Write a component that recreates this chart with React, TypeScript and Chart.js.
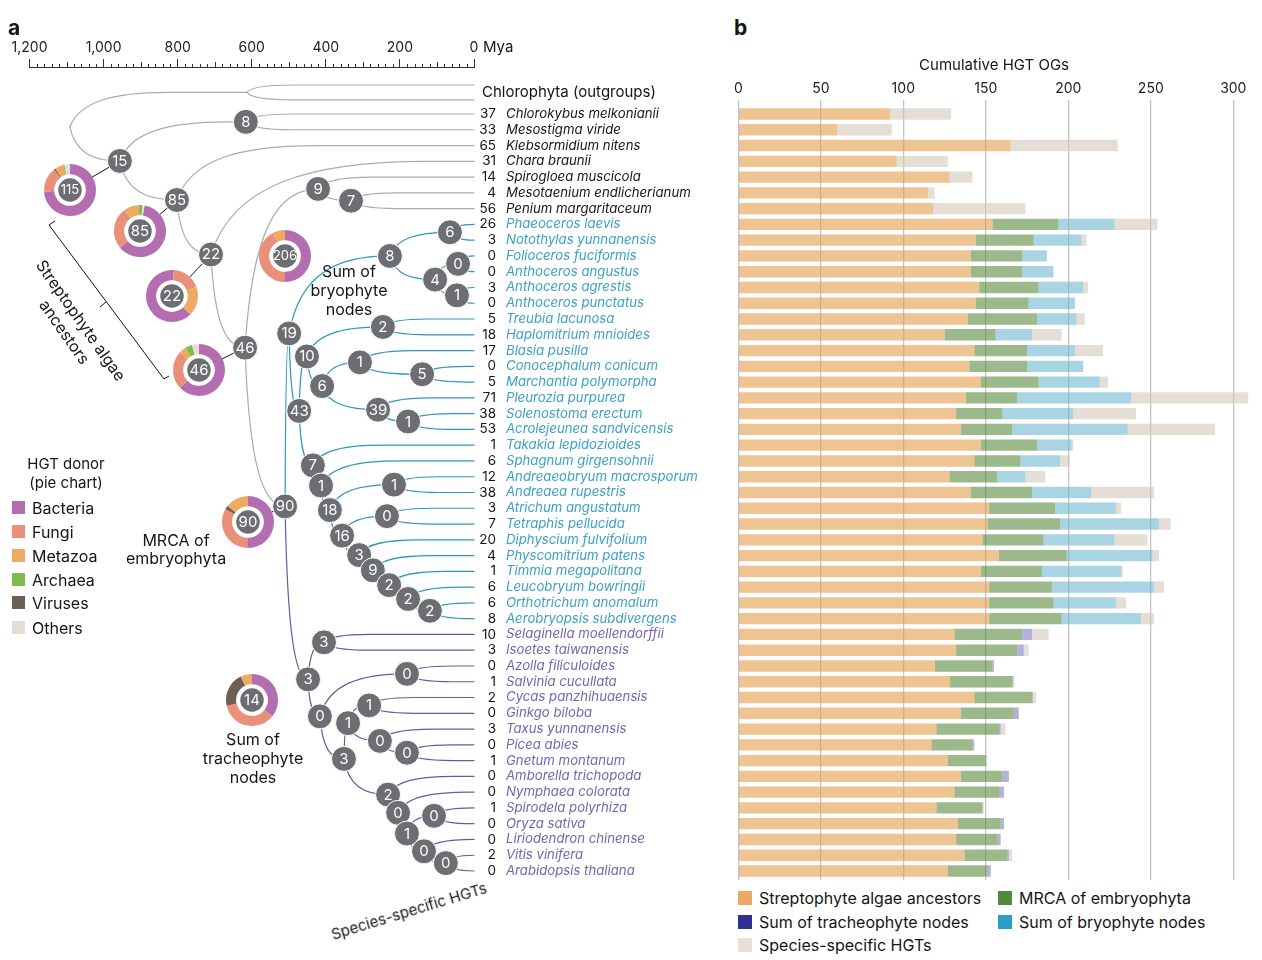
import React, { useEffect, useRef } from 'react';
import { Chart, registerables } from 'chart.js';

Chart.register(...registerables);

const FONT = 'Inter, Roboto, "Noto Sans", sans-serif';

// ---------------- species rows (top to bottom) ----------------
const SPECIES = [
  'Chlorokybus melkonianii', 'Mesostigma viride', 'Klebsormidium nitens', 'Chara braunii',
  'Spirogloea muscicola', 'Mesotaenium endlicherianum', 'Penium margaritaceum',
  'Phaeoceros laevis', 'Notothylas yunnanensis', 'Folioceros fuciformis', 'Anthoceros angustus',
  'Anthoceros agrestis', 'Anthoceros punctatus',
  'Treubia lacunosa', 'Haplomitrium mnioides', 'Blasia pusilla', 'Conocephalum conicum',
  'Marchantia polymorpha', 'Pleurozia purpurea', 'Solenostoma erectum', 'Acrolejeunea sandvicensis',
  'Takakia lepidozioides', 'Sphagnum girgensohnii', 'Andreaeobryum macrosporum', 'Andreaea rupestris',
  'Atrichum angustatum', 'Tetraphis pellucida', 'Diphyscium fulvifolium', 'Physcomitrium patens',
  'Timmia megapolitana', 'Leucobryum bowringii', 'Orthotrichum anomalum', 'Aerobryopsis subdivergens',
  'Selaginella moellendorffii', 'Isoetes taiwanensis', 'Azolla filiculoides', 'Salvinia cucullata',
  'Cycas panzhihuaensis', 'Ginkgo biloba', 'Taxus yunnanensis', 'Picea abies', 'Gnetum montanum',
  'Amborella trichopoda', 'Nymphaea colorata', 'Spirodela polyrhiza', 'Oryza sativa',
  'Liriodendron chinense', 'Vitis vinifera', 'Arabidopsis thaliana',
];

type Group = 'algae' | 'bryo' | 'trach';
const SPECIES_GROUP: Group[] = [
  'algae', 'algae', 'algae', 'algae', 'algae', 'algae', 'algae',
  'bryo', 'bryo', 'bryo', 'bryo', 'bryo', 'bryo',
  'bryo', 'bryo', 'bryo', 'bryo', 'bryo', 'bryo', 'bryo', 'bryo',
  'bryo', 'bryo', 'bryo', 'bryo', 'bryo', 'bryo', 'bryo', 'bryo', 'bryo', 'bryo', 'bryo', 'bryo',
  'trach', 'trach', 'trach', 'trach', 'trach', 'trach', 'trach', 'trach',
  'trach', 'trach', 'trach', 'trach', 'trach', 'trach', 'trach', 'trach',
];

// species-specific HGTs (number next to each name, grey bar segment)
const SPECIES_SPECIFIC = [
  37, 33, 65, 31, 14, 4, 56,
  26, 3, 0, 0, 3, 0,
  5, 18, 17, 0, 5, 71, 38, 53,
  1, 6, 12, 38, 3, 7, 20, 4, 1, 6, 6, 8,
  10, 3, 0, 1, 2, 0, 3, 0, 1, 0, 0, 1, 0, 0, 2, 0,
];

// cumulative HGT OGs by origin (panel b)
const ALGAE_ANCESTORS = [
  92, 60, 165, 96, 128, 115, 118,
  154, 144, 141, 141, 146, 144,
  139, 125, 143, 140, 147, 138, 132, 135,
  147, 143, 128, 141, 152, 151, 148, 158, 147, 152, 152, 152,
  131, 132, 119, 128, 143, 135, 120, 117, 127, 135, 131, 120, 133, 132, 137, 127,
];
const MRCA_EMBRYOPHYTA = [
  0, 0, 0, 0, 0, 0, 0,
  40, 35, 31, 31, 36, 32,
  42, 31, 32, 35, 35, 31, 28, 31,
  34, 28, 29, 37, 40, 44, 37, 41, 37, 38, 39, 44,
  41, 37, 35, 38, 35, 32, 38, 25, 23, 25, 27, 28, 26, 25, 26, 24,
];
const TRACHEOPHYTE_NODES = [
  0, 0, 0, 0, 0, 0, 0,
  0, 0, 0, 0, 0, 0,
  0, 0, 0, 0, 0, 0, 0, 0,
  0, 0, 0, 0, 0, 0, 0, 0, 0, 0, 0, 0,
  6, 4, 1, 0.5, 0.5, 3, 1, 1, 0, 4, 3, 0, 2, 2, 1, 2,
];
const BRYOPHYTE_NODES = [
  0, 0, 0, 0, 0, 0, 0,
  34, 29, 15, 19, 27, 28,
  24, 22, 29, 34, 37, 69, 43, 70,
  21, 24, 17, 36, 37, 60, 43, 52, 48, 62, 38, 48,
  0, 0, 0, 0, 0, 0, 0, 0, 0, 0, 0, 0, 0, 0, 0, 0,
];

const VALUE_TICKS = [0, 50, 100, 150, 200, 250, 300];
const TIME_TICKS = [1200, 1000, 800, 600, 400, 200, 0];

// ---------------- tree (panel a) ----------------
// [id, parent, age (Mya), HGT gains at node, lineage]
const TREE_NODES: [string, string | null, number, number | null, Group][] = [
  ['root', null, 1091, null, 'algae'],
  ['og', 'root', 613, null, 'algae'],
  ['n15', 'root', 956, 15, 'algae'],
  ['n8a', 'n15', 616, 8, 'algae'],
  ['n85', 'n15', 802, 85, 'algae'],
  ['n22', 'n85', 710, 22, 'algae'],
  ['n46', 'n22', 618, 46, 'algae'],
  ['n9', 'n46', 421, 9, 'algae'],
  ['n7z', 'n9', 332, 7, 'algae'],
  ['n90', 'n46', 510, 90, 'algae'],
  ['n19', 'n90', 499, 19, 'bryo'],
  ['h8', 'n19', 227, 8, 'bryo'],
  ['h6', 'h8', 65, 6, 'bryo'],
  ['h4', 'h8', 105, 4, 'bryo'],
  ['h0', 'h4', 43, 0, 'bryo'],
  ['h1', 'h4', 46, 1, 'bryo'],
  ['n43', 'n19', 472, 43, 'bryo'],
  ['l10', 'n43', 451, 10, 'bryo'],
  ['l2', 'l10', 246, 2, 'bryo'],
  ['l6', 'l10', 410, 6, 'bryo'],
  ['l1', 'l6', 308, 1, 'bryo'],
  ['l5', 'l1', 140, 5, 'bryo'],
  ['l39', 'l6', 259, 39, 'bryo'],
  ['l1b', 'l39', 178, 1, 'bryo'],
  ['m7', 'n43', 435, 7, 'bryo'],
  ['m1', 'm7', 413, 1, 'bryo'],
  ['m18', 'm1', 389, 18, 'bryo'],
  ['m1b', 'm18', 216, 1, 'bryo'],
  ['m16', 'm18', 356, 16, 'bryo'],
  ['m0', 'm16', 235, 0, 'bryo'],
  ['m3', 'm16', 310, 3, 'bryo'],
  ['m9', 'm3', 273, 9, 'bryo'],
  ['m2a', 'm9', 229, 2, 'bryo'],
  ['m2b', 'm2a', 178, 2, 'bryo'],
  ['m2c', 'm2b', 119, 2, 'bryo'],
  ['t3', 'n90', 448, 3, 'trach'],
  ['tLyc', 't3', 405, 3, 'trach'],
  ['tEu', 't3', 416, 0, 'trach'],
  ['tFern', 'tEu', 181, 0, 'trach'],
  ['tSeed', 'tEu', 351, 3, 'trach'],
  ['tGym', 'tSeed', 340, 1, 'trach'],
  ['tCG', 'tGym', 283, 1, 'trach'],
  ['tCon', 'tGym', 254, 0, 'trach'],
  ['tPG', 'tCon', 181, 0, 'trach'],
  ['tAng', 'tSeed', 232, 2, 'trach'],
  ['tN', 'tAng', 205, 0, 'trach'],
  ['tMes', 'tN', 181, 1, 'trach'],
  ['tMono', 'tMes', 108, 0, 'trach'],
  ['tLE', 'tMes', 135, 0, 'trach'],
  ['tEud', 'tLE', 76, 0, 'trach'],
];

const LEAF_PARENT = [
  'n8a', 'n8a', 'n85', 'n22', 'n9', 'n7z', 'n7z',
  'h6', 'h6', 'h0', 'h0', 'h1', 'h1',
  'l2', 'l2', 'l1', 'l5', 'l5', 'l39', 'l1b', 'l1b',
  'm7', 'm1', 'm1b', 'm1b', 'm0', 'm0', 'm3', 'm9', 'm2a', 'm2b', 'm2c', 'm2c',
  'tLyc', 'tLyc', 'tFern', 'tFern', 'tCG', 'tCG', 'tCon', 'tPG', 'tPG',
  'tAng', 'tN', 'tMono', 'tMono', 'tLE', 'tEud', 'tEud',
];

const OUTGROUP_LABEL = 'Chlorophyta (outgroups)';
const OUTGROUP_ROW = -0.46;
const OUTGROUP_TIPS = [-0.84, 0.11];

// ---------------- pies: HGT donors ----------------
const PIE_NODE = ['n15', 'n85', 'n22', 'n46', 'n19', 'n90', 't3'];
const PIE_TOTAL = [115, 85, 22, 46, 206, 90, 14];
const DONORS = ['Bacteria', 'Fungi', 'Viruses', 'Metazoa', 'Archaea', 'Others'];
const PIE_BACTERIA = [85, 52, 14, 29, 103, 45, 5];
const PIE_FUNGI = [18, 22, 4, 11, 87, 30, 5];
const PIE_VIRUSES = [1, 0, 0, 0, 0, 2, 3];
const PIE_METAZOA = [6, 8, 4, 2, 16, 13, 1];
const PIE_ARCHAEA = [1, 2, 0, 2, 0, 0, 0];
const PIE_OTHERS = [4, 1, 0, 2, 0, 0, 0];
const DONOR_COLORS = ['#b46db0', '#e98f7a', '#6c5f53', '#eeaa60', '#7dbd4e', '#e4ddd5'];

// ---------------- layout (pixels) ----------------
const ROW_FIRST_PX = 114;
const ROW_LAST_PX = 871;
const ROW_PX = (ROW_LAST_PX - ROW_FIRST_PX) / 48;
const PLOT_BOTTOM = 880;
const TREE_TOP = 67;
const BAR_CANVAS_TOP = 40;
const BAR_TOP = 100;
const rowRange = (top: number) => ({
  min: 1 - (ROW_FIRST_PX - top) / ROW_PX,
  max: 1 + (PLOT_BOTTOM - ROW_FIRST_PX) / ROW_PX,
});
const PIE_CENTERS: [number, number][] = [
  [70, 190], [140, 231], [172, 296], [199, 370], [285, 256], [248, 522], [252, 700],
];
const PIE_ROTATION = [0, 10, 135, 0, 0, 0, 0];
const PIE_CONNECT = [true, true, true, true, false, true, false];
const PIE_SIZE = 56;

const LINE_COLOR: Record<Group, string> = { algae: '#ababab', bryo: '#2e97ba', trach: '#6759a9' };
const TEXT_COLOR: Record<Group, string> = { algae: '#151515', bryo: '#3aa0c8', trach: '#7464b2' };
const NODE_FILL = '#6d6e71';

function computeNodeRows(): Record<string, number> {
  const rows: Record<string, number> = {};
  const calc = (id: string): number => {
    if (rows[id] !== undefined) return rows[id];
    const ys: number[] = [];
    TREE_NODES.forEach((n) => { if (n[1] === id) ys.push(calc(n[0])); });
    LEAF_PARENT.forEach((p, i) => { if (p === id) ys.push(i + 1); });
    if (id === 'og') OUTGROUP_TIPS.forEach((t) => ys.push(t));
    rows[id] = ys.reduce((a, b) => a + b, 0) / ys.length;
    return rows[id];
  };
  TREE_NODES.forEach((n) => calc(n[0]));
  return rows;
}

function drawBranch(ctx: CanvasRenderingContext2D, xp: number, yp: number, xc: number, yc: number) {
  const dx = xc - xp;
  const dy = yc - yp;
  const w = Math.max(0, Math.min(dx, 2 * Math.abs(dy) + 30));
  ctx.beginPath();
  ctx.moveTo(xp, yp);
  ctx.bezierCurveTo(xp + 0.1 * w, yp + 0.75 * dy, xp + 0.45 * w, yc, xp + w, yc);
  if (xc > xp + w) ctx.lineTo(xc, yc);
  ctx.stroke();
}

function Txt(props: { x: number; y: number; size?: number; align?: 'left' | 'center'; bold?: boolean; lh?: number; children: React.ReactNode; style?: React.CSSProperties }) {
  const { x, y, size = 16, align = 'left', bold = false, lh, children, style } = props;
  return (
    <div
      style={{
        position: 'absolute', left: x, top: y, fontSize: size, fontWeight: bold ? 700 : 400,
        lineHeight: lh ? `${lh}px` : 'normal', whiteSpace: 'nowrap', textAlign: align,
        transform: align === 'center' ? 'translate(-50%, -50%)' : 'translateY(-50%)', ...style,
      }}
    >
      {children}
    </div>
  );
}

export default function App() {
  const treeRef = useRef<HTMLCanvasElement>(null);
  const barRef = useRef<HTMLCanvasElement>(null);
  const pieRefs = useRef<(HTMLCanvasElement | null)[]>([]);

  useEffect(() => {
    const charts: Chart[] = [];
    const nodeRows = computeNodeRows();
    const treeRange = rowRange(TREE_TOP);
    const barRange = rowRange(BAR_TOP);

    const nodePoints = TREE_NODES.filter((n) => n[3] !== null).map((n) => ({ x: n[2], y: nodeRows[n[0]] }));

    const treePlugin = {
      id: 'tree',
      beforeDatasetsDraw(chart: any) {
        const { ctx } = chart;
        const x = chart.scales.x;
        const y = chart.scales.y;
        const px = (age: number) => x.getPixelForValue(age);
        const py = (row: number) => y.getPixelForValue(row);
        const nodeById: Record<string, [string, string | null, number, number | null, Group]> = {};
        TREE_NODES.forEach((n) => { nodeById[n[0]] = n; });
        ctx.save();
        ctx.lineWidth = 1.2;
        ctx.lineCap = 'round';
        TREE_NODES.forEach((n) => {
          if (!n[1]) return;
          const p = nodeById[n[1]];
          ctx.strokeStyle = LINE_COLOR[n[4]];
          drawBranch(ctx, px(p[2]), py(nodeRows[p[0]]), px(n[2]), py(nodeRows[n[0]]));
        });
        LEAF_PARENT.forEach((pid, i) => {
          const p = nodeById[pid];
          ctx.strokeStyle = LINE_COLOR[SPECIES_GROUP[i]];
          drawBranch(ctx, px(p[2]), py(nodeRows[pid]), px(0), py(i + 1));
        });
        const og = nodeById.og;
        ctx.strokeStyle = LINE_COLOR.algae;
        OUTGROUP_TIPS.forEach((t) => drawBranch(ctx, px(og[2]), py(nodeRows.og), px(0), py(t)));
        ctx.strokeStyle = '#111';
        ctx.lineWidth = 1;
        PIE_NODE.forEach((id, i) => {
          if (!PIE_CONNECT[i]) return;
          const n = nodeById[id];
          const nx = px(n[2]);
          const ny = py(nodeRows[id]);
          const [cx, cy] = PIE_CENTERS[i];
          const d = Math.hypot(nx - cx, ny - cy);
          const ux = (nx - cx) / d;
          const uy = (ny - cy) / d;
          ctx.beginPath();
          ctx.moveTo(cx + ux * (PIE_SIZE / 2 - 2), cy + uy * (PIE_SIZE / 2 - 2));
          ctx.lineTo(nx - ux * 12, ny - uy * 12);
          ctx.stroke();
        });
        ctx.restore();
      },
      afterDatasetsDraw(chart: any) {
        const { ctx, chartArea } = chart;
        const x = chart.scales.x;
        const y = chart.scales.y;
        ctx.save();
        ctx.fillStyle = '#ffffff';
        ctx.font = `15px ${FONT}`;
        ctx.textAlign = 'center';
        ctx.textBaseline = 'middle';
        TREE_NODES.forEach((n) => {
          if (n[3] === null) return;
          ctx.fillText(String(n[3]), x.getPixelForValue(n[2]), y.getPixelForValue(nodeRows[n[0]]) + 0.5);
        });
        ctx.fillStyle = '#151515';
        ctx.textAlign = 'left';
        ctx.font = `15px ${FONT}`;
        ctx.fillText(OUTGROUP_LABEL, chartArea.right + 8, y.getPixelForValue(OUTGROUP_ROW) + 1.5);
        ctx.restore();
      },
      afterDraw(chart: any) {
        const { ctx, chartArea } = chart;
        const x = chart.scales.x;
        ctx.save();
        ctx.strokeStyle = '#333';
        ctx.lineWidth = 1;
        for (let v = 20; v < 1200; v += 20) {
          if (v % 200 === 0) continue;
          const p = Math.round(x.getPixelForValue(v)) + 0.5;
          const len = v % 100 === 0 ? 5 : 3;
          ctx.beginPath();
          ctx.moveTo(p, chartArea.top);
          ctx.lineTo(p, chartArea.top - len);
          ctx.stroke();
        }
        ctx.restore();
      },
    };

    if (treeRef.current) {
      charts.push(new Chart(treeRef.current, {
        type: 'scatter',
        data: {
          datasets: [{
            data: nodePoints,
            pointRadius: 12.5,
            pointHoverRadius: 12.5,
            backgroundColor: NODE_FILL,
            borderColor: '#ffffff',
            borderWidth: 1,
            clip: false as any,
          }],
        },
        options: {
          responsive: false,
          animation: false,
          events: [],
          layout: { padding: { left: 29.5, right: 0, top: 0, bottom: 960 - PLOT_BOTTOM } },
          plugins: { legend: { display: false }, tooltip: { enabled: false } },
          scales: {
            x: {
              type: 'linear', position: 'top', reverse: true, min: 0, max: 1200,
              afterFit: (s: any) => { s.height = TREE_TOP; },
              afterBuildTicks: (s: any) => { s.ticks = TIME_TICKS.map((v) => ({ value: v })); },
              ticks: {
                autoSkip: false, maxRotation: 0, padding: 3, color: '#222',
                font: { family: FONT, size: 14 },
                callback: (v: any) => Number(v).toLocaleString('en-US'),
              },
              grid: { drawOnChartArea: false, drawTicks: true, tickLength: 8, color: '#333', lineWidth: 1 },
              border: { display: true, color: '#333', width: 1 },
            },
            y: { type: 'linear', display: false, reverse: true, min: treeRange.min, max: treeRange.max },
            yNum: {
              type: 'linear', position: 'right', reverse: true, min: treeRange.min, max: treeRange.max, weight: 0,
              afterFit: (s: any) => { s.width = 22; },
              afterBuildTicks: (s: any) => { s.ticks = SPECIES.map((_, i) => ({ value: i + 1 })); },
              ticks: {
                autoSkip: false, crossAlign: 'far', padding: 6, color: '#151515',
                font: { family: FONT, size: 13.5 },
                callback: (v: any) => String(SPECIES_SPECIFIC[Number(v) - 1]),
              },
              grid: { display: false, drawTicks: false },
              border: { display: false },
            },
            yName: {
              type: 'linear', position: 'right', reverse: true, min: treeRange.min, max: treeRange.max, weight: 1,
              afterFit: (s: any) => { s.width = 234; },
              afterBuildTicks: (s: any) => { s.ticks = SPECIES.map((_, i) => ({ value: i + 1 })); },
              ticks: {
                autoSkip: false, padding: 10,
                color: (c: any) => TEXT_COLOR[SPECIES_GROUP[c.index]],
                font: { family: FONT, size: 13.2, style: 'italic' },
                callback: (v: any) => SPECIES[Number(v) - 1],
              },
              grid: { display: false, drawTicks: false },
              border: { display: false },
            },
          } as any,
        },
        plugins: [treePlugin],
      }));
    }

    if (barRef.current) {
      const mk = (label: string, arr: number[], color: string) => ({
        label,
        data: arr.map((v, i) => ({ x: v, y: i + 1 })),
        backgroundColor: color,
        borderWidth: 0,
        barPercentage: 0.72,
        categoryPercentage: 1,
      });
      charts.push(new Chart(barRef.current, {
        type: 'bar',
        data: {
          datasets: [
            mk('Streptophyte algae ancestors', ALGAE_ANCESTORS, 'rgba(228,157,75,0.6)'),
            mk('MRCA of embryophyta', MRCA_EMBRYOPHYTA, 'rgba(88,138,62,0.6)'),
            mk('Sum of tracheophyte nodes', TRACHEOPHYTE_NODES, 'rgba(128,125,190,0.6)'),
            mk('Sum of bryophyte nodes', BRYOPHYTE_NODES, 'rgba(110,183,210,0.6)'),
            mk('Species-specific HGTs', SPECIES_SPECIFIC, 'rgba(212,200,183,0.6)'),
          ] as any,
        },
        options: {
          indexAxis: 'y',
          responsive: false,
          animation: false,
          events: [],
          layout: { padding: { left: 8.3, right: 12.2, top: 0, bottom: 0 } },
          plugins: { legend: { display: false }, tooltip: { enabled: false } },
          scales: {
            x: {
              type: 'linear', position: 'top', stacked: true, min: 0, max: 310,
              afterFit: (s: any) => { s.height = BAR_TOP - BAR_CANVAS_TOP; },
              afterBuildTicks: (s: any) => { s.ticks = VALUE_TICKS.map((v) => ({ value: v })); },
              ticks: { autoSkip: false, maxRotation: 0, padding: 3, color: '#222', font: { family: FONT, size: 14 } },
              grid: { color: '#c4c4c4', lineWidth: 1.3, drawTicks: false },
              border: { display: false },
              title: {
                display: true, text: 'Cumulative HGT OGs', color: '#151515',
                font: { family: FONT, size: 15 }, padding: { top: 16, bottom: 0 },
              },
            },
            y: {
              type: 'linear', display: false, reverse: true, stacked: true, offset: false,
              grid: { offset: false }, min: barRange.min, max: barRange.max,
            },
          } as any,
        },
      }));
    }

    const donorSeries = [PIE_BACTERIA, PIE_FUNGI, PIE_VIRUSES, PIE_METAZOA, PIE_ARCHAEA, PIE_OTHERS];
    PIE_TOTAL.forEach((total, i) => {
      const cv = pieRefs.current[i];
      if (!cv) return;
      const center = {
        id: 'pieCenter',
        afterDraw(chart: any) {
          const arc = chart.getDatasetMeta(0).data[0];
          const { ctx } = chart;
          ctx.save();
          ctx.beginPath();
          ctx.arc(arc.x, arc.y, 12.5, 0, Math.PI * 2);
          ctx.fillStyle = NODE_FILL;
          ctx.fill();
          ctx.lineWidth = 1.5;
          ctx.strokeStyle = '#ffffff';
          ctx.stroke();
          ctx.fillStyle = '#ffffff';
          ctx.font = `${total >= 100 ? 13 : 15}px ${FONT}`;
          ctx.textAlign = 'center';
          ctx.textBaseline = 'middle';
          ctx.fillText(String(total), arc.x, arc.y + 0.5);
          ctx.restore();
        },
      };
      charts.push(new Chart(cv, {
        type: 'doughnut',
        data: {
          labels: DONORS,
          datasets: [{ data: donorSeries.map((s) => s[i]), backgroundColor: DONOR_COLORS, borderWidth: 0 }],
        },
        options: {
          responsive: false,
          animation: false,
          events: [],
          cutout: '61%',
          rotation: PIE_ROTATION[i],
          layout: { padding: 2 },
          plugins: { legend: { display: false }, tooltip: { enabled: false } },
        } as any,
        plugins: [center],
      }));
    });

    return () => { charts.forEach((c) => c.destroy()); };
  }, []);

  const donorLegend = ['Bacteria', 'Fungi', 'Metazoa', 'Archaea', 'Viruses', 'Others'];
  const donorLegendColors = ['#b46db0', '#e98f7a', '#eeaa60', '#7dbd4e', '#6c5f53', '#e4ddd5'];
  const donorLegendY = [508, 532, 556, 580, 603, 628];

  const barLegend: [string, string, number, number][] = [
    ['Streptophyte algae ancestors', '#eca965', 738, 898],
    ['MRCA of embryophyta', '#4f8a3d', 998, 898],
    ['Sum of tracheophyte nodes', '#2e3192', 738, 922],
    ['Sum of bryophyte nodes', '#2aa0c6', 998, 922],
    ['Species-specific HGTs', '#e6e0d8', 738, 945],
  ];

  return (
    <div style={{ position: 'absolute', left: 0, top: 0, width: 1262, height: 960, fontFamily: FONT, color: '#151515', background: '#fff', overflow: 'hidden' }}>
      <canvas ref={treeRef} width={730} height={960} style={{ position: 'absolute', left: 0, top: 0 }} />
      <canvas ref={barRef} width={532} height={PLOT_BOTTOM - BAR_CANVAS_TOP} style={{ position: 'absolute', left: 730, top: BAR_CANVAS_TOP }} />
      {PIE_CENTERS.map(([cx, cy], i) => (
        <canvas
          key={i}
          ref={(el) => { pieRefs.current[i] = el; }}
          width={PIE_SIZE}
          height={PIE_SIZE}
          style={{ position: 'absolute', left: cx - PIE_SIZE / 2, top: cy - PIE_SIZE / 2 }}
        />
      ))}

      <Txt x={8} y={27} size={21} bold>a</Txt>
      <Txt x={734} y={27} size={21} bold>b</Txt>
      <Txt x={483} y={46} size={15}>Mya</Txt>

      <Txt x={349} y={290} size={16} align="center" lh={19}>Sum of<br />bryophyte<br />nodes</Txt>
      <Txt x={176} y={549} size={16} align="center" lh={18}>MRCA of<br />embryophyta</Txt>
      <Txt x={253} y={758} size={16} align="center" lh={19}>Sum of<br />tracheophyte<br />nodes</Txt>

      <div style={{ position: 'absolute', left: 73, top: 326, transform: 'translate(-50%, -50%) rotate(55deg)', fontSize: 16, lineHeight: '20px', textAlign: 'center', whiteSpace: 'nowrap' }}>
        Streptophyte algae<br />ancestors
      </div>
      <div style={{ position: 'absolute', left: 409, top: 911, transform: 'translate(-50%, -50%) rotate(-17deg)', fontSize: 15, whiteSpace: 'nowrap' }}>
        Species-specific HGTs
      </div>
      <svg width={200} height={400} style={{ position: 'absolute', left: 0, top: 0, pointerEvents: 'none' }}>
        <polyline points="55,221 49,225 164,379 169,376" fill="none" stroke="#111" strokeWidth={1} />
        <line x1={106} y1={302} x2={100} y2={307} stroke="#111" strokeWidth={1} />
      </svg>

      <Txt x={66} y={473} size={15} align="center" lh={19}>HGT donor<br />(pie chart)</Txt>
      {donorLegend.map((d, i) => (
        <React.Fragment key={d}>
          <div style={{ position: 'absolute', left: 12, top: donorLegendY[i] - 7, width: 13, height: 13, background: donorLegendColors[i] }} />
          <Txt x={32} y={donorLegendY[i]} size={16}>{d}</Txt>
        </React.Fragment>
      ))}

      {barLegend.map(([label, color, x, y]) => (
        <React.Fragment key={label}>
          <div style={{ position: 'absolute', left: x, top: y - 7, width: 14, height: 14, background: color }} />
          <Txt x={x + 21} y={y} size={16}>{label}</Txt>
        </React.Fragment>
      ))}
    </div>
  );
}
